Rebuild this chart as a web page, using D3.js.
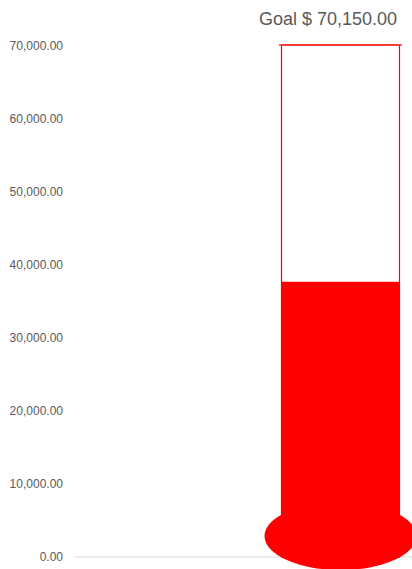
<!DOCTYPE html>
<html><head><meta charset="utf-8">
<script src="https://cdn.jsdelivr.net/npm/d3@7"></script>
<style>html,body{margin:0;padding:0;background:#fff;overflow:hidden}</style>
</head><body>
<svg id="c" width="412" height="569"></svg>
<script>
const categories = ["Raised"];
const raised = [37700];
const goal = [70150];
const tickValues = [0, 10000, 20000, 30000, 40000, 50000, 60000, 70000];
const goalLabel = "Goal $ 70,150.00";

const svg = d3.select("#c");
const y = d3.scaleLinear().domain([0, 70000]).range([557, 46]);
const x = d3.scaleBand().domain(categories).range([281, 400]).padding(0);
const fmt = d3.format(",.2f");

// axis labels
const ax = d3.axisLeft(y).tickValues(tickValues).tickFormat(fmt).tickSize(0).tickPadding(0);
const g = svg.append("g").attr("transform", "translate(63,0)").call(ax);
g.select(".domain").remove();
g.selectAll("text").attr("font-family", "Liberation Sans, Arial, sans-serif").attr("font-size", 12).attr("fill", "#595959");

// baseline
svg.append("line").attr("x1", 75).attr("x2", 412).attr("y1", y(0)).attr("y2", y(0))
  .attr("stroke", "#d9d9d9").attr("stroke-width", 1);

// goal outline
svg.selectAll(".goal").data(categories).join("rect").attr("class", "goal")
  .attr("x", d => x(d) + 0.5).attr("width", x.bandwidth() - 1)
  .attr("y", (d, i) => y(goal[i])).attr("height", (d, i) => y(0) - y(goal[i]))
  .attr("fill", "none").attr("stroke", "#ff0000").attr("stroke-width", 1.2);
svg.selectAll(".goalcap").data(categories).join("line").attr("class", "goalcap")
  .attr("x1", d => x(d) - 2).attr("x2", d => x(d) + x.bandwidth() + 2)
  .attr("y1", (d, i) => y(goal[i])).attr("y2", (d, i) => y(goal[i]))
  .attr("stroke", "#ff3030").attr("stroke-width", 1.5);

// filled bar
svg.selectAll(".bar").data(categories).join("rect").attr("class", "bar")
  .attr("x", d => x(d)).attr("width", x.bandwidth())
  .attr("y", (d, i) => y(raised[i])).attr("height", (d, i) => y(0) - y(raised[i]))
  .attr("fill", "#ff0000");

// bulb
svg.selectAll(".bulb").data(categories).join("ellipse").attr("class", "bulb")
  .attr("cx", d => x(d) + x.bandwidth() / 2).attr("cy", y(0) - 21)
  .attr("rx", 76).attr("ry", 34).attr("fill", "#ff0000");

// goal label
svg.append("text").attr("x", 397).attr("y", 25).attr("text-anchor", "end")
  .attr("font-family", "Liberation Sans, Arial, sans-serif").attr("font-size", 18)
  .attr("fill", "#595959").text(goalLabel);
</script>
</body></html>
